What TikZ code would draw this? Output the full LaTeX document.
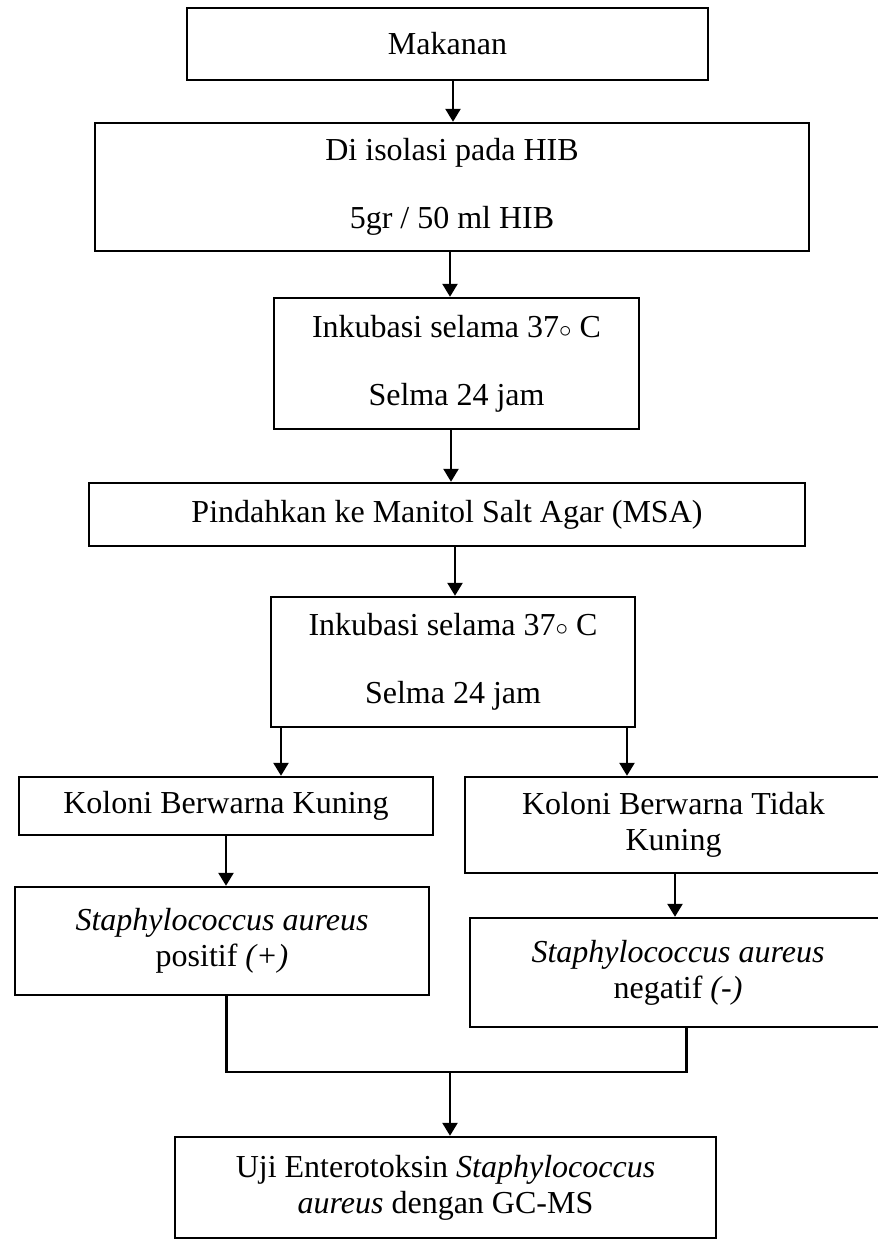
\documentclass[tikz,border=0pt]{standalone}
\usepackage{fontspec}
\setmainfont{Liberation Serif}
\usepackage{tikz}
\usetikzlibrary{arrows.meta, calc}

\begin{document}
\begin{tikzpicture}[x=1pt, y=-1pt,
    kotak/.style={draw, line width=2.4pt, align=center, inner sep=0pt, font=\fontsize{32}{36}\selectfont},
    panah/.style={line width=2.4pt, -{Triangle[width=15pt, length=13pt]}},
    garis/.style={line width=2.4pt}]
  \useasboundingbox (0,0) rectangle (878,1240);
  \fill[white] (0,0) rectangle (878,1240);

  % Main flow
  \node[kotak, minimum width=521pt, minimum height=72pt] (makanan) at (447.5,44) {Makanan};
  \node[kotak, minimum width=714pt, minimum height=128pt] (isolasi) at (452,187) {Di isolasi pada HIB\\[32pt]5gr / 50 ml HIB};
  \node[kotak, minimum width=365pt, minimum height=131pt] (inkubasiA) at (456.5,363.5) {Inkubasi selama 37$\circ$ C\\[32pt]Selma 24 jam};
  \node[kotak, minimum width=716pt, minimum height=63pt] (pindah) at (447,514.5) {Pindahkan ke Manitol Salt Agar (MSA)};
  \node[kotak, minimum width=364pt, minimum height=130pt] (inkubasiB) at (453,662) {Inkubasi selama 37$\circ$ C\\[32pt]Selma 24 jam};

  % Two branches
  \node[kotak, minimum width=414pt, minimum height=58pt] (kuning) at (226,806) {Koloni Berwarna Kuning};
  \node[kotak, minimum width=417pt, minimum height=96pt] (tidak) at (673.5,825) {Koloni Berwarna Tidak\\Kuning};
  \node[kotak, minimum width=414pt, minimum height=108pt] (positif) at (222,941) {\textit{Staphylococcus aureus}\\positif \textit{(+)}};
  \node[kotak, minimum width=416pt, minimum height=109pt] (negatif) at (678,972.5) {\textit{Staphylococcus aureus}\\negatif \textit{(-)}};

  \node[kotak, minimum width=541pt, minimum height=101pt] (uji) at (445.5,1187.5) {Uji Enterotoksin \textit{Staphylococcus}\\\textit{aureus} dengan GC-MS};

  % Arrows
  \draw[panah] ([xshift=5.5pt]makanan.south) -- ([xshift=5.5pt]makanan.south |- isolasi.north);
  \draw[panah] ([xshift=-2pt]isolasi.south) -- ([xshift=-2pt]isolasi.south |- inkubasiA.north);
  \draw[panah] ([xshift=-5.5pt]inkubasiA.south) -- ([xshift=-5.5pt]inkubasiA.south |- pindah.north);
  \draw[panah] ([xshift=8pt]pindah.south) -- ([xshift=8pt]pindah.south |- inkubasiB.north);
  \draw[panah] ([xshift=-172pt]inkubasiB.south) -- ([xshift=-172pt]inkubasiB.south |- kuning.north);
  \draw[panah] ([xshift=174pt]inkubasiB.south) -- ([xshift=174pt]inkubasiB.south |- tidak.north);
  \draw[panah] (kuning.south) -- (kuning.south |- positif.north);
  \draw[panah] ([xshift=1.5pt]tidak.south) -- ([xshift=1.5pt]tidak.south |- negatif.north);

  % Join to final step
  \coordinate (gabung) at ($(uji.north)+(4.5,-64)$);
  \draw[garis] ([xshift=4.5pt]positif.south) -- ([xshift=4.5pt]positif.south |- gabung) -- ([xshift=8.5pt]negatif.south |- gabung) -- ([xshift=8.5pt]negatif.south);
  \draw[panah] (gabung) -- (gabung |- uji.north);
\end{tikzpicture}
\end{document}
